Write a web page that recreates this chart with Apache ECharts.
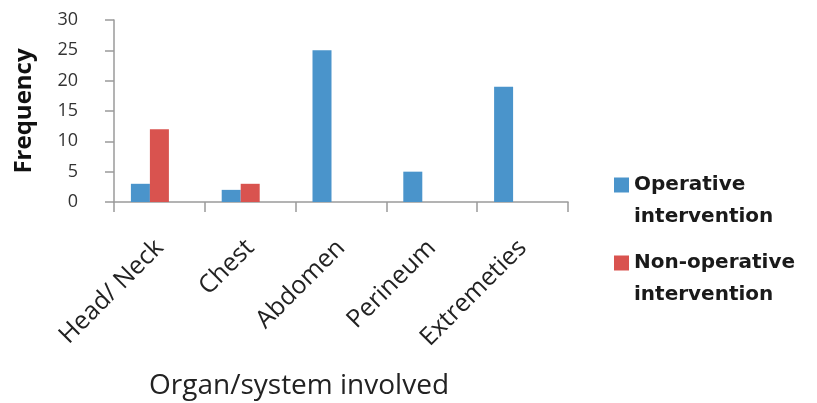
<!DOCTYPE html>
<html>
<head>
<meta charset="utf-8">
<script src="https://cdn.jsdelivr.net/npm/echarts@6/dist/echarts.min.js"></script>
<style>
  html, body { margin: 0; padding: 0; background: #fff; }
  #chart { width: 817px; height: 403px; }
</style>
</head>
<body>
<div id="chart"></div>
<script>
// Organ/system categories and case counts per management type
const categories = ['Head/ Neck', 'Chest', 'Abdomen', 'Perineum', 'Extremeties'];
const operative = [3, 2, 25, 5, 19];
const nonOperative = [12, 3, 0, 0, 0];
const seriesNames = ['Operative intervention', 'Non-operative intervention'];
// leading blank line centres the first text line on the swatch
const legendLabels = ['\nOperative\nintervention', '\nNon-operative\nintervention'];
const yTicks = [0, 5, 10, 15, 20, 25, 30];

const font = '"Open Sans", "Liberation Sans", sans-serif';
const legendFont = '"DejaVu Sans", Verdana, sans-serif';
const axisGrey = '#9A9A9A';
const legendLine = 32;

const chart = echarts.init(document.getElementById('chart'), null, { renderer: 'canvas' });

chart.setOption({
  animation: false,
  backgroundColor: '#ffffff',
  grid: { left: 114, right: 249, top: 20, bottom: 201, containLabel: false },
  legend: {
    orient: 'vertical',
    left: 614,
    top: 137,
    padding: 0,
    itemWidth: 15,
    itemHeight: 15,
    itemGap: -18,
    icon: 'rect',
    data: seriesNames,
    formatter: name => legendLabels[seriesNames.indexOf(name)],
    textStyle: {
      fontFamily: legendFont,
      fontSize: 20,
      fontWeight: 'bold',
      color: '#1a1a1a',
      lineHeight: legendLine
    }
  },
  xAxis: {
    type: 'category',
    data: categories,
    name: 'Organ/system involved',
    nameLocation: 'middle',
    nameGap: 170,
    nameTextStyle: { fontFamily: font, fontSize: 28, color: '#222', padding: [0, 84, 0, 0] },
    axisLine: { lineStyle: { color: axisGrey, width: 1.5 } },
    axisTick: { show: true, length: 10, lineStyle: { color: axisGrey, width: 1.5 } },
    axisLabel: {
      rotate: 45,
      fontFamily: font,
      fontSize: 25,
      color: '#222',
      margin: 42
    }
  },
  yAxis: {
    type: 'value',
    min: 0,
    max: 30,
    interval: 5,
    name: 'Frequency',
    nameLocation: 'middle',
    nameRotate: 90,
    nameGap: 78,
    nameTextStyle: { fontFamily: font, fontSize: 24, fontWeight: 'bold', color: '#111' },
    axisLine: { show: true, lineStyle: { color: axisGrey, width: 1.5 } },
    axisTick: { show: true, length: 9, lineStyle: { color: axisGrey, width: 1.5 } },
    splitLine: { show: false },
    axisLabel: {
      fontFamily: font,
      fontSize: 18,
      color: '#333',
      margin: 36,
      formatter: v => (yTicks.includes(v) ? String(v) : '')
    }
  },
  series: [
    {
      name: seriesNames[0],
      type: 'bar',
      data: operative,
      barWidth: 19,
      barGap: '0%',
      itemStyle: { color: '#4A94CB' }
    },
    {
      name: seriesNames[1],
      type: 'bar',
      data: nonOperative,
      barWidth: 19,
      barGap: '0%',
      itemStyle: { color: '#D9534F' }
    },
    {
      // empty third slot keeps the two drawn bars left of each category centre
      name: 'spacer',
      type: 'bar',
      data: categories.map(() => null),
      barWidth: 19,
      barGap: '0%',
      itemStyle: { color: 'transparent' }
    }
  ]
});
</script>
</body>
</html>
